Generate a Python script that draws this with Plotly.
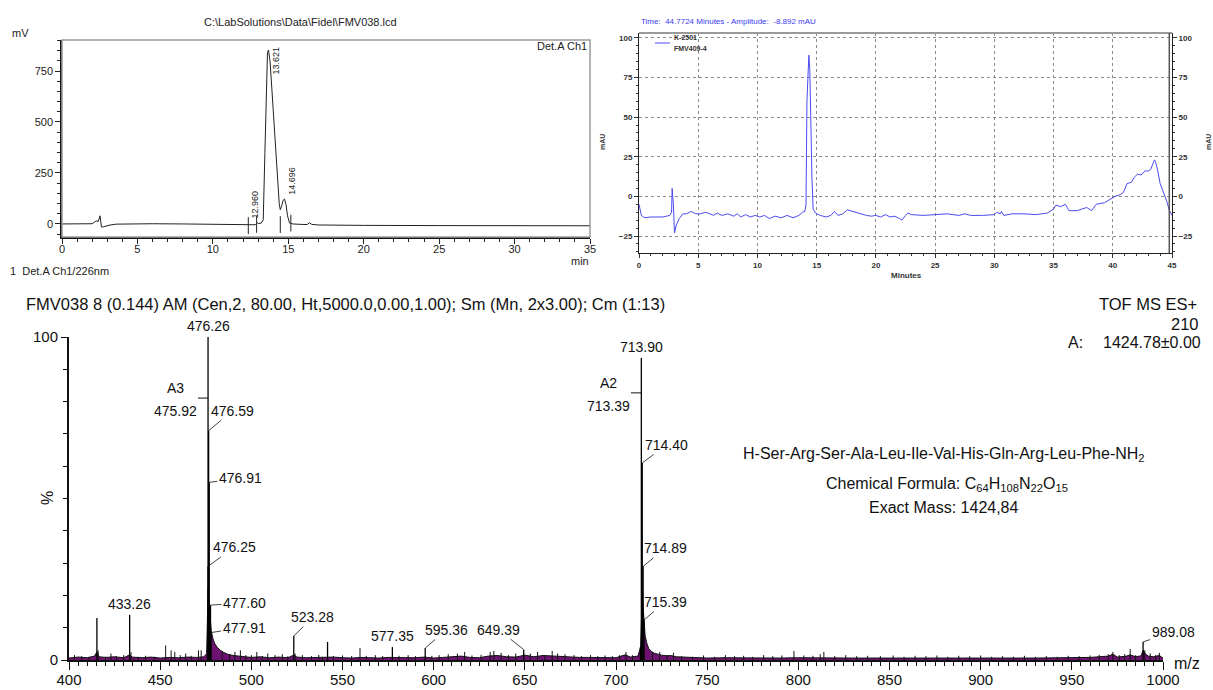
import plotly.graph_objects as go

W, H = 1213, 690
FONT = "Liberation Sans, Arial, sans-serif"

# ---------------- Panel 1 : HPLC chromatogram (LabSolutions) ----------------
lc1_time = [0, 1.5, 2.0, 2.2, 2.3, 2.4, 2.47, 2.52, 2.57, 2.62, 2.75, 2.95, 3.2, 3.6, 4.5,
            6, 8, 10, 11.5, 12.3, 12.8, 12.95, 13.05, 13.2, 13.34, 13.45, 13.55, 13.62, 13.69,
            13.8, 14.0, 14.2, 14.4, 14.47, 14.55, 14.65, 14.75, 14.85, 14.95, 15.08, 15.3,
            15.8, 16.25, 16.4, 16.55, 17.0, 18, 20, 25, 30, 35]
lc1_mv = [0, 0, 1, 12, 15, 12, 25, 40, 10, -15, -14, -10, -5, -1, 1,
          1, 0, -2, -4, -5, -4, 5, 2, 4, 20, 350, 700, 840, 853,
          790, 560, 300, 100, 70, 85, 115, 122, 95, 40, 5, 0,
          -2, -3, 6, -2, -5, -6, -7, -8, -9, -9]
lc1_mark_time = [12.35, 12.9, 14.47, 15.17]
lc1_mark_mv = [-8, -2, -3, 4]
lc1_peak_label = ["12.960", "13.621", "14.696"]
lc1_peak_time = [12.96, 13.621, 14.696]
lc1_peak_mv = [5, 853, 122]
lc1_xticks = [0, 5, 10, 15, 20, 25, 30, 35]
lc1_yticks = [0, 250, 500, 750]

# ---------------- Panel 2 : HPLC chromatogram (mAU) ----------------
lc2_time = [0, 0.2, 0.5, 1, 2, 2.6, 2.75, 2.8, 2.9, 3.0, 3.15, 3.4, 3.7, 4.0, 4.4, 4.8,
            5.2, 5.6, 6, 6.3, 6.6, 7, 7.5, 8, 8.3, 8.6, 9, 9.4, 9.8, 10.2, 10.6, 11,
            11.5, 12, 12.5, 13, 13.5, 13.8, 14.0, 14.1, 14.18, 14.34, 14.42, 14.5, 14.6,
            14.7, 14.9, 15.3, 15.8, 16.2, 16.5, 16.8, 17.2, 17.6, 18, 18.4, 18.8, 19.2,
            19.6, 20, 20.4, 20.8, 21.2, 21.6, 22.0, 22.2, 22.5, 22.7, 23, 24, 25, 26, 27,
            27.5, 28, 29, 30, 30.2, 30.5, 30.6, 30.8, 31.5, 32.5, 33.5, 34.5, 35, 35.2,
            35.6, 36.0, 36.3, 37, 37.5, 37.8, 38.2, 38.6, 39.3, 39.8, 40.2, 40.6, 40.9,
            41.2, 41.6, 41.8, 42.1, 42.4, 42.7, 43.0, 43.2, 43.52, 43.6, 43.8, 44.0, 44.3,
            44.6, 44.77, 45]
lc2_mau = [-5, -12, -13.5, -13, -13, -12, -10, 5, -5, -23, -18, -14, -11, -11, -9.5, -11,
           -11, -10, -11, -12, -10.5, -12, -11, -12.5, -11, -13, -11.5, -13, -12, -13, -12, -14,
           -12.5, -13.5, -12, -13.5, -12, -10, -9.5, -5, 60, 89, 80, 40, 12,
           -8, -10.5, -12, -13, -12, -9.5, -12, -11, -8.5, -9.5, -10, -11.5, -12,
           -12.5, -12, -13, -11.5, -13, -12.5, -14, -15, -12, -10.5, -11.5, -12, -11.5, -11, -12,
           -11, -12, -12, -11.5, -10, -11, -9.5, -12, -11, -11, -11.5, -10.5, -8, -5.5,
           -6.5, -5, -9, -9, -8, -7, -9, -5, -4, -2, 0, 1, 2.5,
           8, 9, 12, 14, 13.5, 16, 16, 17, 23, 22, 16, 8, 2,
           -4, -8.9, -12]
lc2_cursor_time = 44.7724
lc2_cursor_mau = -8.892
lc2_xticks = [0, 5, 10, 15, 20, 25, 30, 35, 40, 45]
lc2_yticks = [-25, 0, 25, 50, 75, 100]
lc2_legend = ["K-2501", "FMV409-4"]

# ---------------- Panel 3 : TOF MS ES+ spectrum ----------------
ms_major_mz = [415.3, 433.26, 475.92, 476.25, 476.26, 476.59, 476.91, 477.60, 477.91, 523.28,
               541.8, 577.35, 595.36, 649.39, 713.39, 713.90, 714.40, 714.89, 715.39, 989.08]
ms_major_int = [13, 14, 3, 29, 100, 71, 55, 17, 8.5, 7.4,
                5.6, 4, 3.7, 3.2, 4, 93.5, 61, 29, 12.4, 5.6]

ms_noise_mz = [403, 407, 411, 416, 420, 423, 426, 430, 434, 438,
               442, 447, 453, 456, 458, 461, 464, 467, 471, 472.5,
               484, 488, 491, 494, 497, 500, 503, 506, 509, 513,
               517, 520, 524, 528, 533, 537, 539, 545, 550, 555,
               559.6, 563, 568, 572, 581, 586, 590, 599, 603, 608,
               613, 617, 621, 626, 631, 633, 637, 641, 645, 653,
               657, 661, 665, 668, 672, 677, 681, 686, 690, 694,
               698, 702, 705.5, 709, 720, 724, 728, 731.5, 736, 742,
               748, 754, 760, 765, 770, 775, 781, 786, 791, 797.6,
               803, 808, 812, 814, 820, 826, 832, 838, 845, 852,
               858, 864, 870, 876, 882, 888, 894, 900, 906, 912,
               918, 924, 930, 936, 942, 948, 954, 960, 965, 970,
               972.5, 976, 979, 982, 985, 990, 993, 996, 998]
ms_noise_int = [1.5, 1.2, 1.0, 3.0, 1.0, 2.0, 1.2, 1.5, 2.5, 1.0,
                1.3, 1.0, 4.5, 3.0, 2.5, 1.5, 2.0, 1.3, 3.0, 3.0,
                2.5, 1.8, 2.5, 3.0, 1.5, 1.5, 2.5, 1.2, 2.0, 1.5,
                1.8, 1.2, 2.0, 1.5, 1.2, 1.6, 1.0, 1.2, 1.4, 1.2,
                3.7, 1.3, 1.5, 1.2, 1.3, 1.5, 1.2, 1.3, 1.5, 1.8,
                2.0, 2.5, 1.4, 1.6, 2.5, 2.8, 2.2, 1.5, 2.0, 2.0,
                2.5, 1.5, 2.8, 2.0, 1.8, 1.5, 1.2, 1.5, 1.2, 1.4,
                1.2, 1.5, 2.5, 1.5, 2.5, 2.5, 1.5, 2.2, 1.2, 1.0,
                1.4, 1.0, 1.5, 1.2, 1.3, 1.0, 1.5, 1.2, 1.4, 2.8,
                1.4, 1.3, 1.8, 2.5, 1.2, 1.5, 1.2, 1.3, 1.2, 1.4,
                1.0, 1.3, 1.2, 1.4, 1.0, 1.3, 1.2, 1.4, 1.0, 1.2,
                1.0, 1.3, 1.0, 1.2, 1.0, 1.3, 1.2, 1.4, 1.6, 1.8,
                2.5, 1.5, 1.8, 3.4, 1.5, 3.0, 2.0, 1.5, 2.2]

ms_fill_mz = [400, 405, 410, 414, 415.3, 416.5, 420, 425, 430, 433.3,
              434.5, 440, 445, 450, 455, 460, 465, 470, 474, 475.5,
              476.3, 477, 477.6, 478, 479, 480, 481.5, 483, 485, 487,
              490, 495, 500, 505, 510, 515, 520, 523.3, 525, 530,
              535, 540, 545, 550, 555, 560, 565, 570, 575, 580,
              585, 590, 595, 600, 605, 610, 615, 620, 625, 630,
              635, 640, 645, 650, 655, 660, 665, 670, 675, 680,
              685, 690, 695, 700, 705, 708, 712, 713.5, 714.4, 715,
              715.4, 716, 717, 718, 719.5, 721, 723, 725, 728, 730,
              733, 736, 740, 750, 760, 770, 780, 790, 800, 810,
              820, 830, 840, 850, 860, 870, 880, 890, 900, 910,
              920, 930, 940, 950, 960, 965, 970, 972.5, 975, 980,
              982, 985, 988, 989.1, 990.5, 992, 995, 998, 1000]
ms_fill_int = [0.6, 0.9, 0.7, 1.2, 2.5, 1.0, 0.8, 1.0, 0.7, 1.6,
               0.9, 0.7, 0.9, 0.6, 0.8, 0.7, 0.9, 0.8, 1.0, 2.0,
               22, 16, 12, 9, 6.5, 5, 3.8, 3.0, 2.3, 1.8,
               1.4, 1.0, 0.8, 1.0, 0.7, 0.9, 0.7, 1.5, 0.9, 0.7,
               0.8, 0.7, 0.9, 0.7, 0.6, 0.8, 0.7, 0.6, 0.8, 0.7,
               0.6, 0.7, 0.9, 0.6, 0.8, 1.0, 1.2, 0.8, 0.7, 1.2,
               1.4, 1.0, 0.9, 1.5, 1.0, 1.4, 1.2, 1.0, 0.9, 0.8,
               0.8, 0.7, 0.8, 0.7, 1.6, 0.9, 1.2, 4.0, 20, 14,
               11, 7.5, 5, 3.5, 2.6, 2.1, 1.8, 1.5, 1.3, 1.4,
               1.0, 0.9, 0.7, 0.6, 0.7, 0.6, 0.7, 0.6, 0.7, 0.6,
               0.7, 0.6, 0.6, 0.7, 0.6, 0.6, 0.7, 0.6, 0.6, 0.7,
               0.6, 0.6, 0.7, 0.6, 0.8, 1.0, 1.2, 1.8, 0.9, 1.2,
               1.6, 1.0, 1.3, 3.0, 1.8, 1.2, 1.0, 1.4, 0.6]

ms_label_text = ["476.26", "476.59", "476.91", "476.25", "477.60", "477.91", "433.26",
                 "523.28", "577.35", "595.36", "649.39", "713.90", "714.40", "714.89",
                 "715.39", "989.08"]
ms_series_label = ["A3", "A2"]
ms_series_mz = [475.92, 713.39]
ms_series_int = [81.1, 82.7]
ms_xticks_step = 50

# label placement (style only): (ax, ay) pixel offsets, None -> centred above the peak
ms_label_offset = [None, (24, -20), (31, -4), (26, -19), (34, -2), (33, -5), None,
                   (19, -19), None, (21, -18), (-25, -20), None, (24, -18), (22, -18),
                   (21, -18), (30, -10)]


def px(x):
    return x / W


def py(y):
    return 1 - y / H


def sticks(mz, inten):
    xs, ys = [], []
    for m, h in zip(mz, inten):
        xs += [m, m, None]
        ys += [0, h, None]
    return xs, ys


def note(x, y, text, size, anchor="center", color="#111", **kw):
    d = dict(xref="paper", yref="paper", x=px(x), y=py(y), text=text, showarrow=False,
             xanchor=anchor, yanchor="middle", font=dict(size=size, color=color))
    d.update(kw)
    return d


fig = go.Figure()

# Panel 1 traces
fig.add_trace(go.Scatter(x=lc1_time, y=lc1_mv, mode="lines", xaxis="x", yaxis="y",
                         line=dict(color="#222222", width=1), hoverinfo="skip"))
fig.add_trace(go.Scatter(x=lc1_mark_time, y=lc1_mark_mv, mode="markers", xaxis="x", yaxis="y",
                         marker=dict(symbol="line-ns-open", size=12, color="#222222",
                                     line=dict(color="#222222", width=1)), hoverinfo="skip"))

# Panel 2 traces
fig.add_trace(go.Scatter(x=lc2_time, y=lc2_mau, mode="lines", xaxis="x2", yaxis="y2",
                         line=dict(color="#4b4bf2", width=1), hoverinfo="skip"))
fig.add_trace(go.Scatter(x=lc2_time, y=lc2_mau, mode="lines", xaxis="x2", yaxis="y3",
                         line=dict(color="rgba(0,0,0,0)", width=0), hoverinfo="skip"))

# Panel 3 traces
fig.add_trace(go.Scatter(x=ms_fill_mz, y=ms_fill_int, mode="lines", xaxis="x4", yaxis="y4",
                         fill="tozeroy", fillcolor="#6e1272",
                         line=dict(color="#111111", width=1), hoverinfo="skip"))
nx, ny = sticks(ms_noise_mz, ms_noise_int)
fig.add_trace(go.Scatter(x=nx, y=ny, mode="lines", xaxis="x4", yaxis="y4",
                         line=dict(color="#111111", width=1), hoverinfo="skip"))
mx, my = sticks(ms_major_mz, ms_major_int)
fig.add_trace(go.Scatter(x=mx, y=my, mode="lines", xaxis="x4", yaxis="y4",
                         line=dict(color="#000000", width=1.3), hoverinfo="skip"))

ann = []
shapes = []

# ---- Panel 1 furniture
shapes.append(dict(type="rect", xref="x domain", yref="y domain", x0=0, x1=1, y0=0, y1=1,
                   line=dict(color="#9a9a9a", width=1.5)))
ann.append(note(300, 22, "C:\\LabSolutions\\Data\\Fidel\\FMV038.lcd", 11, color="#222"))
ann.append(note(10, 33, "mV", 11, anchor="left", color="#222"))
ann.append(note(589, 46, "Det.A Ch1", 11, anchor="right", color="#222"))
ann.append(note(591, 261, "min", 11, anchor="right", color="#222"))
ann.append(note(8, 271, "1  Det.A Ch1/226nm", 11, anchor="left", color="#222"))
lc1_shift = [(-3, 18), (9, -10), (8, 18)]
for lab, t, v, (dx, dy) in zip(lc1_peak_label, lc1_peak_time, lc1_peak_mv, lc1_shift):
    ann.append(dict(xref="x", yref="y", x=t, y=v, text=lab, textangle=-90, showarrow=False,
                    xanchor="center", yanchor="middle",
                    xshift=dx, yshift=dy, font=dict(size=9, color="#222")))

# ---- Panel 2 furniture
shapes.append(dict(type="line", xref="x2 domain", yref="y2 domain", x0=0, x1=1, y0=1, y1=1,
                   line=dict(color="#9a9a9a", width=2)))
shapes.append(dict(type="line", xref="x2", yref="y2 domain", x0=lc2_cursor_time, x1=lc2_cursor_time,
                   y0=0, y1=1, line=dict(color="#555555", width=1.5)))
shapes.append(dict(type="line", xref="paper", yref="paper", x0=px(655), x1=px(670), y0=py(43), y1=py(43),
                   line=dict(color="#4b4bf2", width=1)))
ann.append(note(639, 21, "Time:  %.4f Minutes - Amplitude:  %.3f mAU" % (lc2_cursor_time, lc2_cursor_mau),
                8, anchor="left", color="#3b3bf0"))
bold7 = dict(size=7, color="#333", weight="bold")
ann.append(note(672, 38, lc2_legend[0], 7, anchor="left", font=bold7))
ann.append(note(672, 48, lc2_legend[1], 7, anchor="left", font=bold7))
ann.append(note(906, 275, "Minutes", 8, font=dict(size=8, color="#333", weight="bold")))
ann.append(note(603, 142, "mAU", 7, textangle=-90, font=bold7))
ann.append(note(1209, 142, "mAU", 7, textangle=-90, font=bold7))

# ---- Panel 3 furniture
MSF = dict(size=14, color="#111111")
ann.append(note(24, 304,
                "FMV038 8 (0.144) AM (Cen,2, 80.00, Ht,5000.0,0.00,1.00); Sm (Mn, 2x3.00); Cm (1:13)",
                16.5, anchor="left"))
ann.append(note(1199, 304, "TOF MS ES+", 16.5, anchor="right"))
ann.append(note(1201, 324, "210", 16.5, anchor="right"))
ann.append(note(1066, 343, "A:", 16, anchor="left"))
ann.append(note(1203, 343, "1424.78±0.00", 16, anchor="right"))
ann.append(note(944, 454, "H-Ser-Arg-Ser-Ala-Leu-Ile-Val-His-Gln-Arg-Leu-Phe-NH<sub>2</sub>", 16))
ann.append(note(947, 484,
                "Chemical Formula: C<sub>64</sub>H<sub>108</sub>N<sub>22</sub>O<sub>15</sub>", 16))
ann.append(note(944, 507, "Exact Mass: 1424,84", 16))
ann.append(note(47, 498, "%", 16, textangle=-90))
ann.append(note(1172, 663, "m/z", 16, anchor="left"))

peak_lookup = dict(zip(ms_major_mz, ms_major_int))
for lab, off in zip(ms_label_text, ms_label_offset):
    m = float(lab)
    h = peak_lookup[m]
    if off is None:
        ann.append(dict(xref="x4", yref="y4", x=m, y=h, text=lab, showarrow=False,
                        xanchor="center", yanchor="bottom", yshift=1, font=MSF))
    else:
        ann.append(dict(xref="x4", yref="y4", x=m, y=h, text=lab, showarrow=True,
                        arrowhead=0, arrowwidth=0.8, arrowcolor="#111", ax=off[0], ay=off[1],
                        axref="pixel", ayref="pixel", standoff=0, font=MSF))

# A-series markers (A3 / A2)
for lab, m, h in zip(ms_series_label, ms_series_mz, ms_series_int):
    shapes.append(dict(type="line", xref="x4", yref="y4", x0=m - 5.2, x1=m + 0.4, y0=h, y1=h,
                       line=dict(color="#111", width=1)))
    ann.append(dict(xref="x4", yref="y4", x=m - 17.5, y=h, text=lab, showarrow=False,
                    xanchor="center", yshift=10, font=MSF))
    ann.append(dict(xref="x4", yref="y4", x=m - 17.5, y=h, text="%.2f" % m, showarrow=False,
                    xanchor="center", yshift=-13, font=MSF))

small_axis = dict(tickfont=dict(size=8, color="#333", family=FONT, weight="bold"),
                  ticks="outside", ticklen=4, tickcolor="#333", showline=True, linecolor="#222",
                  linewidth=1, zeroline=False, automargin=False)

fig.update_layout(
    template="none",
    width=W, height=H, margin=dict(l=0, r=0, t=0, b=0, pad=0, autoexpand=False),
    paper_bgcolor="white", plot_bgcolor="white", showlegend=False,
    font=dict(family=FONT, color="#111"),
    xaxis=dict(domain=[px(62), px(590)], range=[0, 35], anchor="y", automargin=False,
               tickvals=lc1_xticks, ticks="outside", ticklen=5, tickcolor="#222",
               ticklabelstandoff=-4,
               minor=dict(dtick=1, ticklen=3, ticks="outside", tickcolor="#222"),
               showline=True, linecolor="#111", linewidth=1.5, showgrid=False, zeroline=False,
               tickfont=dict(size=11, color="#222")),
    yaxis=dict(domain=[py(237), py(40)], range=[-64, 902], anchor="x", automargin=False,
               tickvals=lc1_yticks, ticks="outside", ticklen=5, tickcolor="#222",
               minor=dict(dtick=50, tick0=0, ticklen=3, ticks="outside", tickcolor="#222"),
               showline=True, linecolor="#111", linewidth=1.5, showgrid=False, zeroline=False,
               tickfont=dict(size=11, color="#222")),
    xaxis2=dict(domain=[px(639), px(1172)], range=[0, 45], anchor="y2", tickvals=lc2_xticks,
                showgrid=True, gridcolor="#8a8a8a", griddash="dot", gridwidth=1,
                minor=dict(dtick=1, ticklen=2, ticks="outside", tickcolor="#333"), **small_axis),
    yaxis2=dict(domain=[py(253), py(33)], range=[-35.7, 103], anchor="x2", tickvals=lc2_yticks,
                showgrid=True, gridcolor="#8a8a8a", griddash="dot", gridwidth=1,
                minor=dict(dtick=5, tick0=0, ticklen=2, ticks="outside", tickcolor="#333"), **small_axis),
    yaxis3=dict(overlaying="y2", side="right", anchor="x2", range=[-35.7, 103], tickvals=lc2_yticks,
                showgrid=False,
                minor=dict(dtick=5, tick0=0, ticklen=2, ticks="outside", tickcolor="#333"), **small_axis),
    xaxis4=dict(domain=[px(69), px(1163)], range=[400, 1000], anchor="y4", automargin=False,
                tick0=0, dtick=ms_xticks_step, ticks="outside", ticklen=8, tickwidth=1.3, tickcolor="#111",
                ticklabelstandoff=-3,
                minor=dict(dtick=5, ticklen=4, ticks="outside", tickcolor="#111"),
                showline=True, linecolor="#111", linewidth=2, showgrid=False, zeroline=False,
                tickfont=dict(size=15, color="#111")),
    yaxis4=dict(domain=[py(660), py(337)], range=[0, 100], anchor="x4", automargin=False,
                tick0=0, dtick=100, ticks="outside", ticklen=6, tickwidth=1.3, tickcolor="#111",
                minor=dict(dtick=10, ticklen=4, ticks="outside", tickcolor="#111"),
                showline=True, linecolor="#111", linewidth=2, showgrid=False, zeroline=False,
                tickfont=dict(size=15, color="#111")),
    annotations=ann, shapes=shapes,
)

fig.write_html("out.html", config={"displayModeBar": False},
               post_script="document.body.style.margin='0';document.body.style.overflow='hidden';")
